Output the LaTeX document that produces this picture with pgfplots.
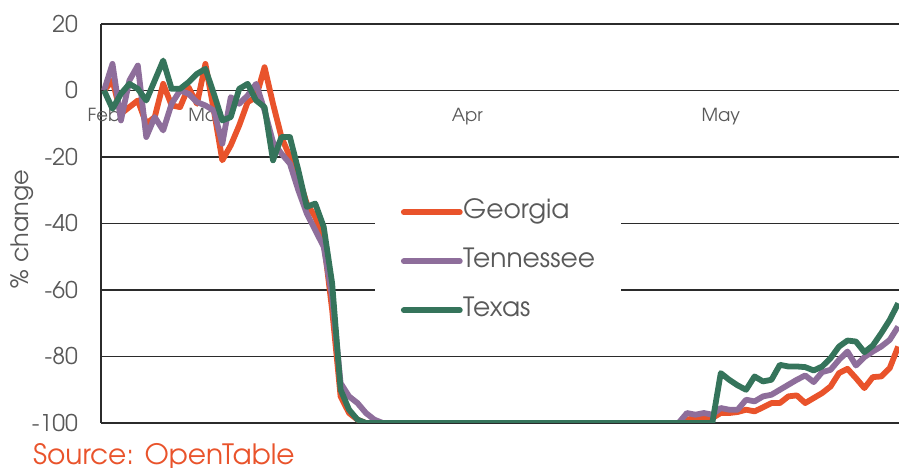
\documentclass[border=0pt]{standalone}
\usepackage{fontspec}
\setmainfont{TeX Gyre Adventor}
\usepackage{pgfplots}
\pgfplotsset{compat=1.18}
\usepackage{pgfplotstable}
\definecolor{ga}{HTML}{E9532B}
\definecolor{tn}{HTML}{8E6E9B}
\definecolor{tx}{HTML}{35745B}
\definecolor{txtc}{HTML}{595959}
\definecolor{gridc}{HTML}{2B2B2B}

\pgfplotstableread{
d ga tn tx
0 0 0 0
1 3 8 -5.5
2 -7 -9 -1
3 -5 3 2
4 -3 7.5 0.5
5 -10 -14 -3
6 -8 -8 3
7 2 -12 9
8 -4.5 -4 0.5
9 -5 0 0.5
10 1 -1 2.5
11 -4 -3.5 5
12 8 -4.5 6.5
13 -6 -6 -1
14 -21 -16 -9
15 -16.5 -2 -8
16 -10.5 -4 0.5
17 -3.5 -1.5 2
18 -2 2 -3
19 7 -6 -5
20 -4 -15.5 -21
21 -14 -19 -14
22 -20 -22 -14
23 -26 -30 -24
24 -34 -37 -35
25 -38 -42 -34
26 -45 -47 -41
27 -66 -62 -58
28 -92 -88 -90
29 -97 -92 -96
30 -99 -94 -99
31 -100 -97 -100
32 -100 -99 -100
33 -100 -100 -100
34 -100 -100 -100
35 -100 -100 -100
36 -100 -100 -100
37 -100 -100 -100
38 -100 -100 -100
39 -100 -100 -100
40 -100 -100 -100
41 -100 -100 -100
42 -100 -100 -100
43 -100 -100 -100
44 -100 -100 -100
45 -100 -100 -100
46 -100 -100 -100
47 -100 -100 -100
48 -100 -100 -100
49 -100 -100 -100
50 -100 -100 -100
51 -100 -100 -100
52 -100 -100 -100
53 -100 -100 -100
54 -100 -100 -100
55 -100 -100 -100
56 -100 -100 -100
57 -100 -100 -100
58 -100 -100 -100
59 -100 -100 -100
60 -100 -100 -100
61 -100 -100 -100
62 -100 -100 -100
63 -100 -100 -100
64 -100 -100 -100
65 -100 -100 -100
66 -100 -100 -100
67 -100 -100 -100
68 -100 -100 -100
69 -99 -97 -100
70 -98.5 -97.5 -100
71 -98.8 -97 -100
72 -98.5 -97.5 -100
73 -97 -95.5 -85
74 -97 -96 -87
75 -96.7 -96 -88.7
76 -96 -93 -90
77 -96.5 -93.5 -86
78 -95.3 -92 -87.5
79 -94 -91.5 -87
80 -94 -90 -82.5
81 -92 -88.5 -83
82 -91.7 -87 -83
83 -94 -85.7 -83.2
84 -92.5 -87.7 -84.2
85 -91 -84.7 -83
86 -89 -84 -80.5
87 -85 -81 -77
88 -83.7 -78.5 -75.2
89 -86.5 -82.7 -75.5
90 -89.5 -80.2 -78.7
91 -86.2 -78.5 -76.7
92 -86 -77 -73
93 -83.5 -75 -69
94 -77 -71 -64
}\data

\begin{document}
\begin{tikzpicture}[x=1bp,y=1bp]
\useasboundingbox (-101,-45) rectangle (798,423);
\begin{axis}[
  at={(0,0)}, anchor=south west,
  scale only axis, width=798bp, height=399bp,
  xmin=-0.36, xmax=94.1, ymin=-100, ymax=20,
  enlargelimits=false,
  clip mode=individual,
  axis x line=middle, axis y line=left,
  axis line style={-, draw=gridc, line width=1.6bp},
  hide obscured x ticks=false,
  ytick={-100,-80,...,20},
  xtick={0,12,43,73}, xticklabels={Feb,Mar,Apr,May},
  major tick length=0pt,
  ymajorgrids,
  major grid style={draw=gridc, line width=1.6bp},
  /pgf/number format/assume math mode=true,
  yticklabel style={font=\fontsize{23bp}{27bp}\selectfont, text=txtc, anchor=east, inner sep=0pt, xshift=-23bp},
  xticklabel style={font=\fontsize{18bp}{22bp}\selectfont, text=txtc, anchor=north, inner sep=0pt, yshift=-18bp},
  ylabel={\% change},
  every axis y label/.style={at={(axis description cs:-0.099,0.486)}, rotate=90, anchor=center, font=\fontsize{24bp}{28bp}\selectfont, text=txtc},
  legend cell align=left,
  legend image code/.code={\draw[#1, line cap=round] (0bp,0bp) -- (56bp,0bp);},
  legend style={at={(axis description cs:0.343,0.580)}, anchor=north west, draw=none, fill=white,
    inner xsep=26bp, inner ysep=8bp, row sep=24bp,
    font=\fontsize{26.5bp}{31bp}\selectfont, text=txtc,
    nodes={inner xsep=0.5bp, inner ysep=0pt, text height=19bp, text depth=6bp}},
]
\addplot[ga, line width=5.8bp, line join=round] table[x=d, y=ga] {\data};
\addlegendentry{Georgia}
\addplot[tn, line width=5.8bp, line join=round] table[x=d, y=tn] {\data};
\addlegendentry{Tennessee}
\addplot[tx, line width=5.8bp, line join=round] table[x=d, y=tx] {\data};
\addlegendentry{Texas}
\node[anchor=base west, inner sep=0pt, font=\fontsize{28bp}{32bp}\selectfont, text=ga] at (axis description cs:-0.0852,-0.103) {Source: OpenTable};
\end{axis}
\end{tikzpicture}
\end{document}
